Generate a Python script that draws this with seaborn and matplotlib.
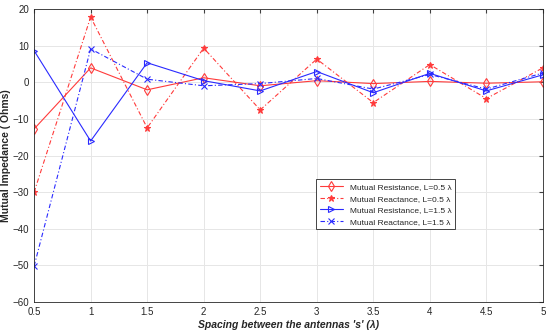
import numpy as np
import pandas as pd
import matplotlib.pyplot as plt
import seaborn as sns

# spacing between antennas (lambda)
spacing = [0.5, 1, 1.5, 2, 2.5, 3, 3.5, 4, 4.5, 5]

# mutual impedance values (Ohms)
res_05 = [-12.7, 4.0, -2.0, 1.3, -0.9, 0.5, -0.3, 0.3, -0.2, 0.2]
reac_05 = [-30.0, 17.9, -12.4, 9.4, -7.5, 6.4, -5.5, 4.9, -4.4, 4.0]
res_15 = [8.7, -16.0, 5.4, 0.5, -2.3, 3.0, -2.8, 2.5, -2.3, 2.1]
reac_15 = [-50.2, 9.2, 0.9, -0.9, -0.3, 1.1, -1.8, 2.2, -1.8, 2.6]

labels = ['Mutual Resistance, L=0.5 λ', 'Mutual Reactance, L=0.5 λ',
          'Mutual Resistance, L=1.5 λ', 'Mutual Reactance, L=1.5 λ']

sns.set_style('whitegrid')
plt.rcParams['font.family'] = ['Liberation Sans', 'DejaVu Sans']

fig = plt.figure(figsize=(5.5, 3.34), dpi=100)
ax = fig.add_axes([0.062, 0.096, 0.925, 0.876])

red = '#ff3b3b'
blue = '#2a2aff'
series = [
    (res_05, red, '-', 'd', 'none', 5.5),
    (reac_05, red, (0, (4, 2, 1, 2)), '*', red, 5),
    (res_15, blue, '-', '>', 'none', 5),
    (reac_15, blue, (0, (4, 2, 1, 2)), 'x', blue, 4.5),
]
for (vals, c, ls, mk, mfc, ms), lab in zip(series, labels):
    sns.lineplot(x=spacing, y=vals, ax=ax, color=c, linestyle=ls, marker=mk,
                 markersize=ms, markerfacecolor=mfc, markeredgecolor=c,
                 markeredgewidth=0.8, linewidth=0.8, label=lab)

ax.set_xlim(0.5, 5)
ax.set_ylim(-60, 20)
ax.set_xticks(np.arange(0.5, 5.01, 0.5))
ax.set_xticklabels(['0.5', '1', '1.5', '2', '2.5', '3', '3.5', '4', '4.5', '5'])
ax.set_yticks(np.arange(-60, 21, 10))
ax.grid(True, color='#e6e6e6', linewidth=0.7)
ax.tick_params(axis='both', labelsize=7, colors='#262626', direction='in',
               length=3, top=True, right=True, labeltop=False, labelright=False)
ax.tick_params(axis='both', color='#404040')
for sp in ax.spines.values():
    sp.set_color('#262626')
    sp.set_linewidth(0.6)

ax.set_xlabel("Spacing between the antennas 's' (λ)", fontsize=7.5,
              fontweight='bold', fontstyle='italic', labelpad=2)
ax.set_ylabel('Mutual Impedance ( Ohms)', fontsize=7.5, fontweight='bold', labelpad=1)

leg = ax.legend(loc='upper left', bbox_to_anchor=(0.546, 0.433), fontsize=6,
                frameon=True, fancybox=False, framealpha=1, edgecolor='#262626',
                handlelength=2.8, borderpad=0.45, labelspacing=0.45)
leg.get_frame().set_linewidth(0.6)

fig.savefig('out.png', dpi=100)
